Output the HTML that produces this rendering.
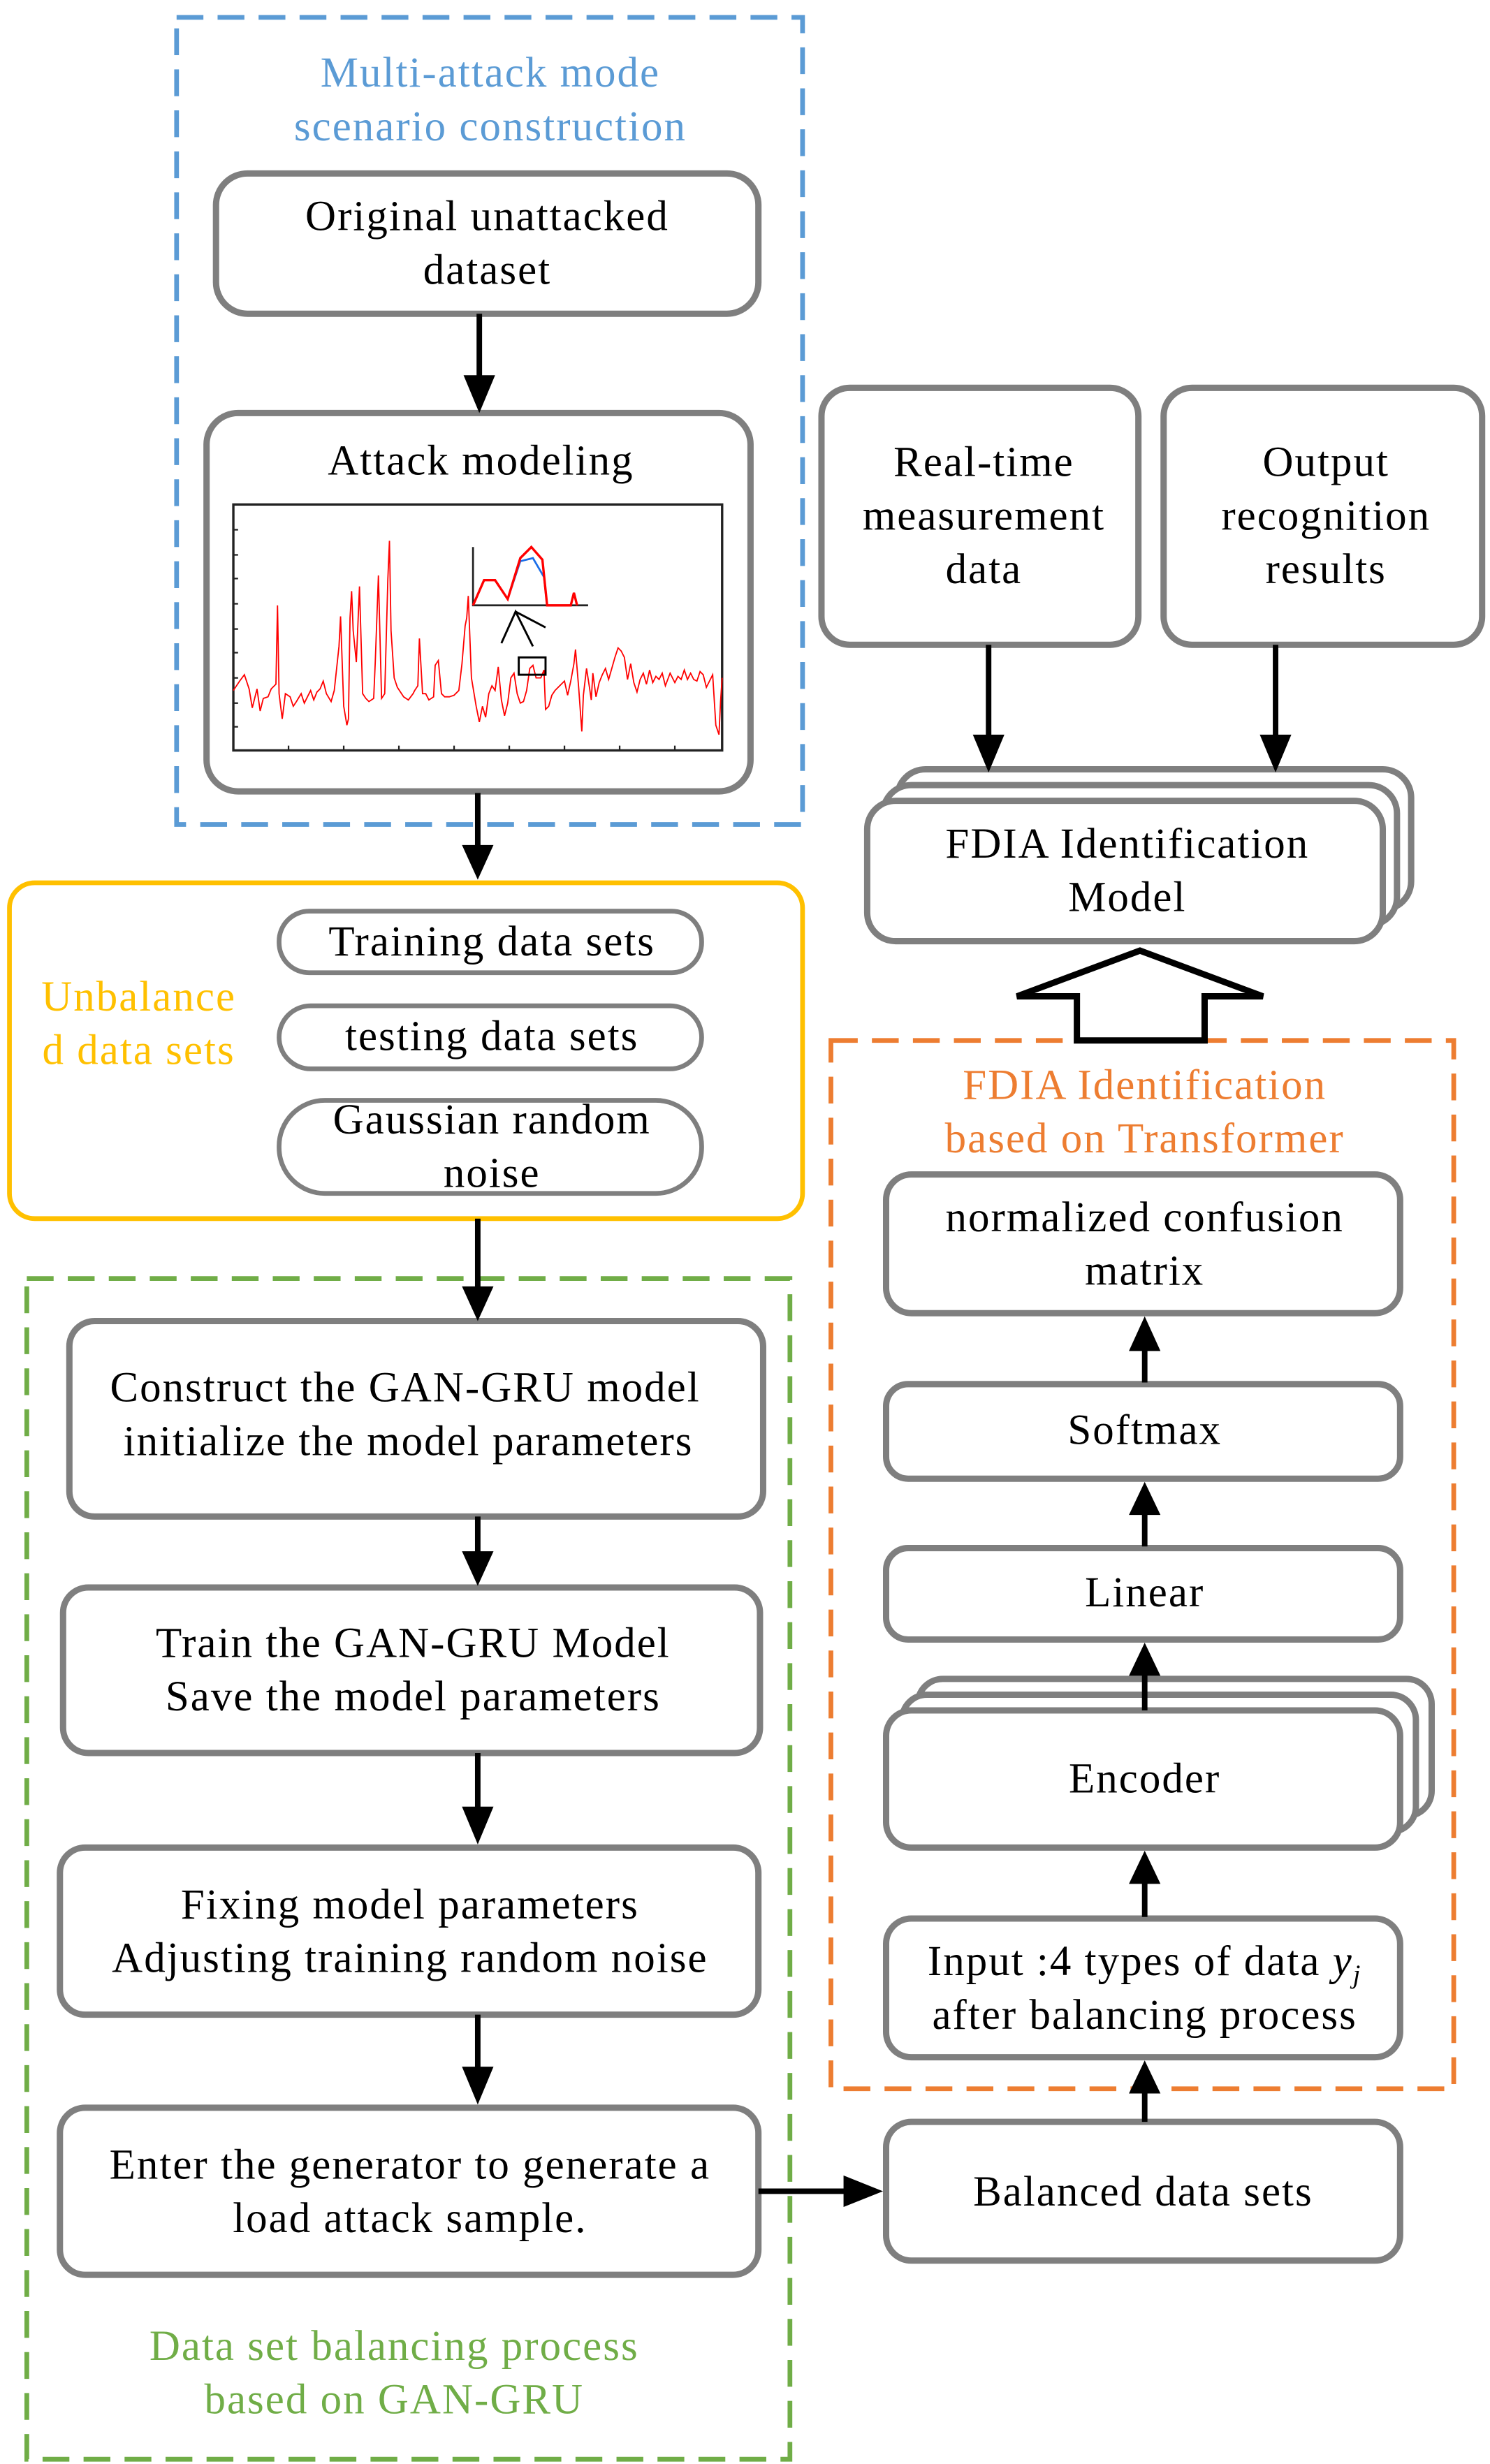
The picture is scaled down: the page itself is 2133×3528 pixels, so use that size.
<!DOCTYPE html>
<html><head><meta charset="utf-8"><style>
html,body{margin:0;padding:0;background:#fff}
svg{display:block}
text{font-family:"Liberation Serif",serif;font-size:27px;text-anchor:middle;letter-spacing:0.9px}
</style></head><body>
<svg width="2133" height="3528" viewBox="0 0 945 1563" xmlns="http://www.w3.org/2000/svg">
<g fill="none" stroke-width="3">
<rect x="112" y="11" width="397" height="512" stroke="#5b9bd5" stroke-dasharray="17,9"/>
<rect x="6" y="560" width="503" height="213" rx="16" stroke="#ffc000"/>
<rect x="17" y="811" width="484" height="749" stroke="#70ad47" stroke-dasharray="17,9"/>
<rect x="527" y="660" width="395" height="665" stroke="#ed7d31" stroke-dasharray="17,9"/>
</g>
<g fill="#fff" stroke="#7f7f7f" stroke-width="4">
<rect x="137" y="110" width="344" height="89" rx="20"/>
<rect x="131" y="262" width="345" height="240" rx="20"/>
<rect x="177" y="578" width="268" height="39" rx="19" stroke-width="3"/>
<rect x="177" y="638" width="268" height="40" rx="20" stroke-width="3"/>
<rect x="177" y="698" width="268" height="59" rx="29" stroke-width="3"/>
<rect x="44" y="838" width="440" height="124" rx="16"/>
<rect x="40" y="1007" width="442" height="105" rx="16"/>
<rect x="38" y="1172" width="443" height="106" rx="16"/>
<rect x="38" y="1337" width="443" height="106" rx="16"/>
<rect x="562" y="1346" width="326" height="88" rx="16"/>
<rect x="521" y="246" width="201" height="163" rx="18"/>
<rect x="738" y="246" width="202" height="163" rx="18"/>
<rect x="569" y="488" width="326" height="89" rx="18"/>
<rect x="560" y="498" width="326" height="89" rx="18"/>
<rect x="550" y="508" width="327" height="89" rx="18"/>
<rect x="562" y="745" width="326" height="88" rx="16"/>
<rect x="562" y="878" width="326" height="60" rx="14"/>
<rect x="562" y="982" width="326" height="58" rx="14"/>
<rect x="582" y="1065" width="326" height="87" rx="16"/>
<rect x="572" y="1075" width="326" height="87" rx="16"/>
<rect x="562" y="1085" width="326" height="87" rx="16"/>
<rect x="562" y="1217" width="326" height="88" rx="16"/>
</g>
<rect x="148" y="320" width="310" height="156" fill="#fff" stroke="#222" stroke-width="1.5"/>
<g stroke="#222" stroke-width="1">
<path d="M148 336h3M148 352h3M148 367h3M148 383h3M148 399h3M148 414h3M148 430h3M148 446h3M148 461h3"/>
<path d="M183 476v-3M218 476v-3M253 476v-3M288 476v-3M323 476v-3M358 476v-3M393 476v-3M428 476v-3"/>
</g>
<polyline fill="none" stroke="#ff0000" stroke-width="0.8" points="148,438 152,432 155,428 158,437 160,449 163,437 165,451 167,443 170,442 172,437 175,434 176,384 177,440 179,456 181,440 184,442 186,448 188,445 191,440 193,446 195,442 197,438 199,444 201,439 203,437 205,432 207,440 210,445 212,438 215,410 216,391 218,448 220,460 221,456 222,392 223,375 224,400 226,420 228,372 230,440 232,443 234,445 237,443 238,420 240,365 242,443 244,440 246,367 247,343 248,400 250,430 252,436 256,442 259,444 262,440 263,438 265,435 266,405 268,440 270,440 272,444 275,442 276,422 278,419 280,440 282,442 285,442 288,441 291,438 293,421 295,397 296,392 297,378 299,430 302,448 304,458 306,448 308,455 310,440 312,435 314,438 316,423 318,444 320,454 322,446 324,430 326,427 328,440 330,446 332,445 334,438 336,424 338,422 340,430 343,430 345,425 346,450 348,448 350,441 352,438 354,436 356,434 358,432 360,441 362,432 364,421 365,412 367,436 369,464 370,441 372,424 374,437 375,444 376,427 378,442 380,433 382,428 384,424 386,431 388,424 390,417 392,411 394,413 396,417 398,431 400,421 402,433 404,439 406,431 408,427 410,434 412,425 414,433 416,429 418,431 420,427 422,435 425,427 428,433 430,429 432,431 434,425 436,431 438,427 440,431 442,432 444,426 446,428 448,436 450,432 452,428 454,460 456,466 457,445 458,430"/>
<g fill="none">
<path d="M300 347V384H373" stroke="#222" stroke-width="1.2"/>
<polyline points="300,384 307,368 314,368 322,380 330,356 338,354 345,366 347,384" stroke="#1a6ee8" stroke-width="1.2"/>
<polyline points="300,384 307,368 314,368 322,380 330,354 337,347 344,355 347,384 362,384 364,376 366,384" stroke="#f00" stroke-width="1.5"/>
<path d="M318 408L327 388L338 410M327 388L346 398" stroke="#000" stroke-width="1.3"/>
<rect x="329" y="417" width="17" height="11" stroke="#000" stroke-width="1.3"/>
</g>
<g stroke="#000" stroke-width="3.5" fill="none">
<path d="M304 199V244M303 503V540M303 773V820M303 962V988M303 1112V1149M303 1278V1314M481 1390H540M627 409V470M809 409V470M726 877V853M726 981V958M726 1085V1060M726 1216V1192M726 1346V1325"/>
</g>
<g fill="#000">
<polygon points="294,238 314,238 304,262"/>
<polygon points="293,536 313,536 303,558"/>
<polygon points="293,816 313,816 303,838"/>
<polygon points="293,984 313,984 303,1006"/>
<polygon points="293,1146 313,1146 303,1170"/>
<polygon points="293,1311 313,1311 303,1335"/>
<polygon points="535,1380 535,1400 560,1390"/>
<polygon points="617,466 637,466 627,490"/>
<polygon points="799,466 819,466 809,490"/>
<polygon points="716,857 736,857 726,835"/>
<polygon points="716,961 736,961 726,940"/>
<polygon points="716,1063 736,1063 726,1042"/>
<polygon points="716,1195 736,1195 726,1174"/>
<polygon points="716,1328 736,1328 726,1307"/>
</g>
<polygon points="683,660 683,632 645,632 723,603 801,632 764,632 764,660" fill="#fff" stroke="#000" stroke-width="4"/>
<g fill="#5b9bd5"><text x="311" y="55">Multi-attack mode</text><text x="311" y="89">scenario construction</text></g>
<text x="309" y="146">Original unattacked</text><text x="309" y="180">dataset</text>
<text x="305" y="301">Attack modeling</text>
<g fill="#ffc000"><text x="88" y="641">Unbalance</text><text x="88" y="675">d data sets</text></g>
<text x="312" y="606">Training data sets</text>
<text x="312" y="666">testing data sets</text>
<text x="312" y="719">Gaussian random</text><text x="312" y="753">noise</text>
<text x="257" y="889">Construct the GAN-GRU model</text><text x="259" y="923">initialize the model parameters</text>
<text x="262" y="1051">Train the GAN-GRU Model</text><text x="262" y="1085">Save the model parameters</text>
<text x="260" y="1217">Fixing model parameters</text><text x="260" y="1251">Adjusting training random noise</text>
<text x="260" y="1382">Enter the generator to generate a</text><text x="260" y="1416">load attack sample.</text>
<g fill="#70ad47"><text x="250" y="1497">Data set balancing process</text><text x="250" y="1531">based on GAN-GRU</text></g>
<text x="725" y="1399">Balanced data sets</text>
<text x="624" y="302">Real-time</text><text x="624" y="336">measurement</text><text x="624" y="370">data</text>
<text x="841" y="302">Output</text><text x="841" y="336">recognition</text><text x="841" y="370">results</text>
<text x="715" y="544">FDIA Identification</text><text x="715" y="578">Model</text>
<g fill="#ed7d31"><text x="726" y="697">FDIA Identification</text><text x="726" y="731">based on Transformer</text></g>
<text x="726" y="781">normalized confusion</text><text x="726" y="815">matrix</text>
<text x="726" y="916">Softmax</text>
<text x="726" y="1019">Linear</text>
<text x="726" y="1137">Encoder</text>
<text x="726" y="1253">Input :4 types of data <tspan font-style="italic">y<tspan font-size="17" dy="5">j</tspan></tspan></text><text x="726" y="1287">after balancing process</text>
</svg>
</body></html>
